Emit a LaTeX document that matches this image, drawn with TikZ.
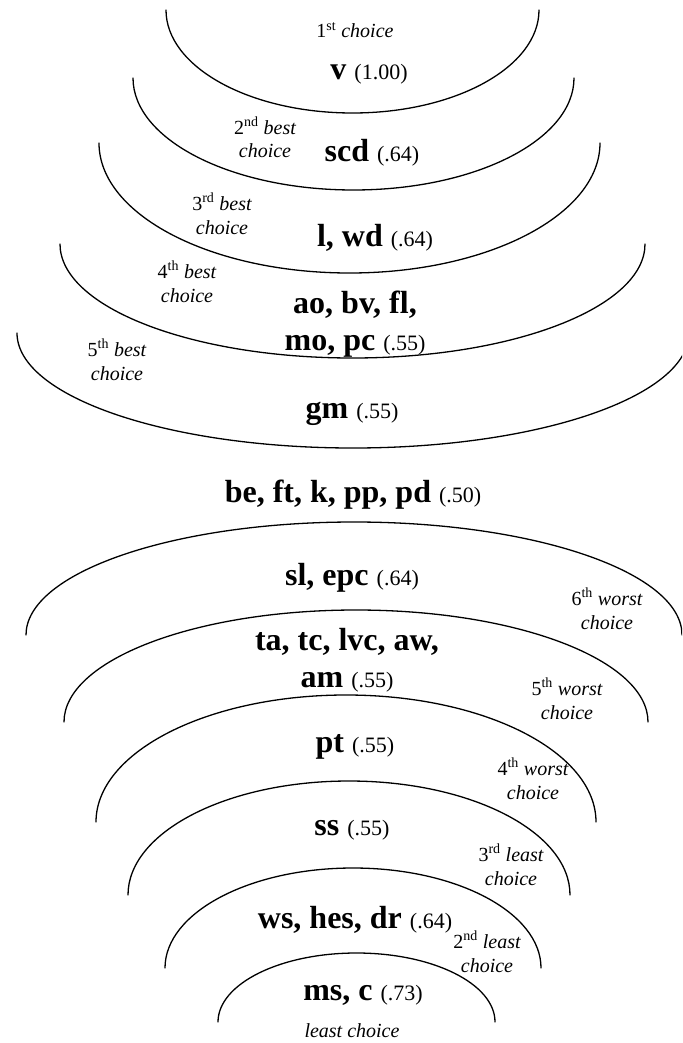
\documentclass[tikz,border=0pt]{standalone}
\usepackage{fontspec}
\setmainfont{Liberation Serif}
\newcommand{\nth}[2]{\textup{#1\textsuperscript{#2}}}
\newcommand{\wt}[1]{{\fontsize{22}{24}\selectfont\mdseries(#1)}}

\begin{document}
\begin{tikzpicture}[x=1pt, y=-1pt,
  every node/.style={inner sep=0pt},
  grp/.style={font=\fontsize{32}{37}\selectfont\bfseries, align=center, anchor=base},
  ann/.style={font=\fontsize{20}{24}\selectfont\itshape, align=center, anchor=base},
  ring/.style={line width=1.3pt, line cap=round}]
\useasboundingbox (0,0) rectangle (682,1043);
\begin{scope}
\clip (0,0) rectangle (682,1043);
% best choices
\draw[ring] (166,10) arc[start angle=180, end angle=0, x radius=186.5, y radius=103];
\draw[ring] (133,78) arc[start angle=180, end angle=0, x radius=220.5, y radius=112];
\draw[ring] (99,143) arc[start angle=180, end angle=0, x radius=250.5, y radius=130];
\draw[ring] (60,244) arc[start angle=180, end angle=0, x radius=292.5, y radius=114];
\draw[ring] (17,333) arc[start angle=180, end angle=0, x radius=336, y radius=115];
% worst choices
\draw[ring] (26,635) arc[start angle=180, end angle=360, x radius=328, y radius=113];
\draw[ring] (64,722) arc[start angle=180, end angle=360, x radius=292, y radius=112];
\draw[ring] (96,822) arc[start angle=180, end angle=360, x radius=250, y radius=127];
\draw[ring] (128,895) arc[start angle=180, end angle=360, x radius=221, y radius=114];
\draw[ring] (165,968) arc[start angle=180, end angle=360, x radius=188, y radius=100];
\draw[ring] (218,1022) arc[start angle=180, end angle=360, x radius=138.5, y radius=69];
\end{scope}

\node[ann] (a1) at (355,38) {\nth{1}{st} choice};
\node[grp] (gv) at (369,80) {v \wt{1.00}};
\node[ann] (a2) at (265,158) {\nth{2}{nd} best\\choice};
\node[grp] (gscd) at (372,161) {scd \wt{.64}};
\node[ann] (a3) at (222,234) {\nth{3}{rd} best\\choice};
\node[grp] (glwd) at (375,246) {l, wd \wt{.64}};
\node[ann] (a4) at (187,302) {\nth{4}{th} best\\choice};
\node[grp] (gao) at (355,350) {ao, bv, fl,\\mo, pc \wt{.55}};
\node[ann] (a5) at (117,380) {\nth{5}{th} best\\choice};
\node[grp] (ggm) at (352,418) {gm \wt{.55}};
\node[grp] (gbe) at (353,502) {be, ft, k, pp, pd \wt{.50}};
\node[grp] (gsl) at (352,585) {sl, epc \wt{.64}};
\node[ann] (a6) at (607,629) {\nth{6}{th} worst\\choice};
\node[grp] (gta) at (347,687) {ta, tc, lvc, aw,\\am \wt{.55}};
\node[ann] (a7) at (567,719) {\nth{5}{th} worst\\choice};
\node[grp] (gpt) at (355,752) {pt \wt{.55}};
\node[ann] (a8) at (533,799) {\nth{4}{th} worst\\choice};
\node[grp] (gss) at (352,835) {ss \wt{.55}};
\node[ann] (a9) at (511,885) {\nth{3}{rd} least\\choice};
\node[grp] (gws) at (355,928) {ws, hes, dr \wt{.64}};
\node[ann] (a10) at (487,972) {\nth{2}{nd} least\\choice};
\node[grp] (gms) at (363,1000) {ms, c \wt{.73}};
\node[ann] (a11) at (352,1037) {least choice};
\end{tikzpicture}
\end{document}
